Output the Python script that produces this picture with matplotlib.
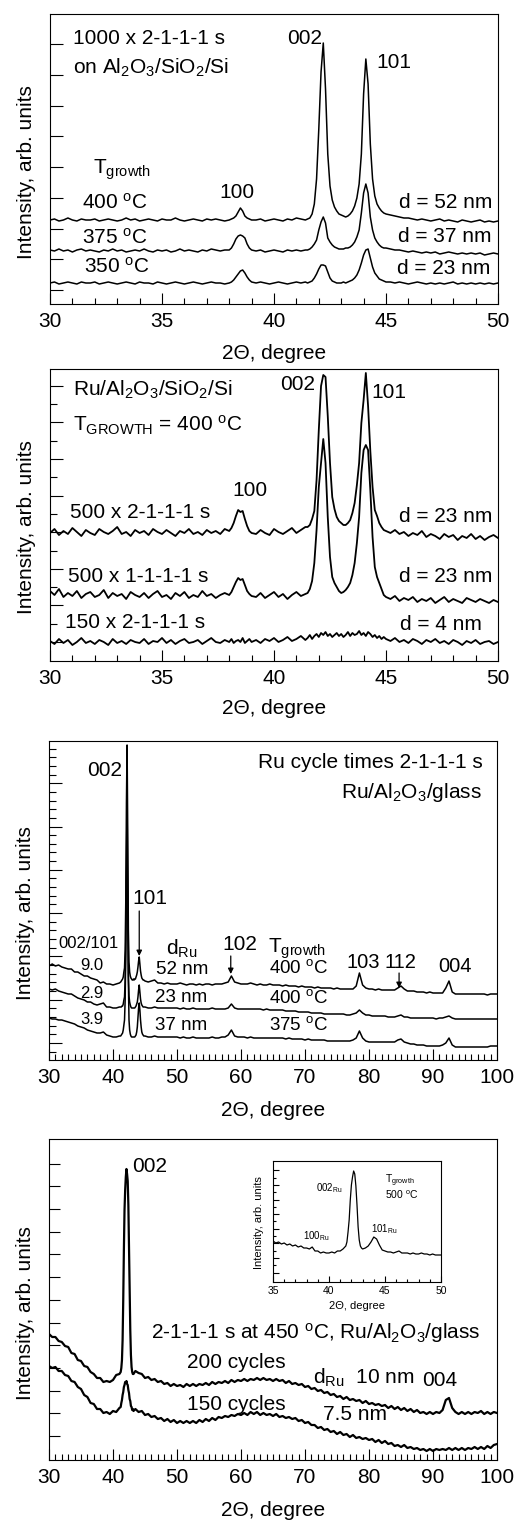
import numpy as np
import matplotlib
matplotlib.use("Agg")
import matplotlib.pyplot as plt
from matplotlib.ticker import MultipleLocator

plt.rcParams["font.family"] = ["Liberation Sans", "DejaVu Sans"]
plt.rcParams["mathtext.default"] = "regular"
plt.rcParams["axes.linewidth"] = 0.8

# 2theta grid of the two Si-substrate scans (panels a, b)
tt_ab = np.round(np.concatenate([np.arange(30.0, 37.9, 0.2), np.arange(38.0, 39.05, 0.1),
                                  np.arange(39.2, 41.45, 0.2), np.arange(41.5, 44.95, 0.1),
                                  np.arange(45.0, 50.05, 0.2)]), 2)

# panel a: 1000 x 2-1-1-1 s, three growth temperatures (arb. units)
a_400 = [84,85,83,84,86,84,83,85,84,84, 85,83,84,85,84,83,84,86,84,85, 83,84,85,84,83,85,84,84,86,84, 83,84,85,84,83,85,84,85,84,83,
         84,85,86,88,92,96,93,88,86,85,84,
         84,85,83,84,85,84,83,85,84,86,85,84,
         85,86,90,100,125,175,232,261,215,150, 118,104,97,93,90,89,88,87,88,90, 93,98,106,120,150,210,245,220,160,125, 108,100,96,93,91,
         90,89,88,87,86,86,85,84,85,84, 83,84,85,83,84,83,82,84,83,82, 83,84,82,83,82,83]
a_375 = [54,53,55,53,54,52,54,55,53,54, 53,52,54,53,55,53,54,52,53,54, 53,55,53,52,54,53,54,52,53,55, 53,54,53,52,54,53,55,54,53,54,
         54,56,60,65,68,69,68,66,60,56,54,
         53,54,52,53,54,53,52,54,53,54,53,54,
         54,55,57,60,64,74,82,87,81,66, 62,59,57,56,55,55,55,56,56,57, 59,62,67,74,91,111,120,111,87,74, 66,62,59,57,56,
         56,55,54,54,53,52,53,52,51,52, 51,52,50,51,52,51,50,51,50,51, 50,51,49,50,51,50]
a_350 = [21,22,20,21,22,21,20,22,21,21, 22,20,21,22,21,20,21,22,21,20, 22,21,21,20,22,21,20,21,22,21, 20,21,22,21,20,21,22,21,21,20,
         21,22,24,27,30,33,34,31,27,24,22,
         21,22,21,20,21,22,21,20,21,22,21,22,
         21,22,23,26,30,35,39,39,38,32, 26,23,22,21,21,21,22,21,22,23, 24,26,29,34,41,49,54,55,46,37, 31,28,25,24,23,
         22,22,21,22,21,20,21,22,21,20, 21,20,21,20,21,22,20,21,20,21, 20,21,20,21,20,21]

# panel b: Ru/Al2O3/SiO2/Si at 400 C
b_500x2 = [128,132,126,130,127,133,129,125,131,128, 126,132,129,127,130,134,127,129,125,131, 128,130,126,132,129,127,131,128,125,130, 128,132,127,129,126,131,128,130,127,132,
           130,133,138,145,151,149,150,142,135,130,128,
           127,131,128,126,132,129,127,130,133,128,131,134,
           134,136,142,150,181,231,275,286,284,245, 198,164,152,144,140,138,136,136,138,141, 148,158,176,198,238,261,288,255,210,174, 151,145,138,134,131,
           130,128,131,127,129,125,128,126,130,124, 127,125,122,127,124,126,121,125,123,127, 122,125,121,124,126,123]
b_500x1 = [70,66,72,64,68,65,70,63,67,69, 64,66,71,63,68,65,67,62,69,66, 64,68,63,67,70,64,66,62,68,65, 69,63,66,64,70,65,67,63,66,68,
           66,69,74,79,83,81,82,76,70,67,65,
           64,68,63,66,69,64,67,62,66,69,65,67,
           68,72,80,98,131,174,198,222,198,144, 104,84,78,74,70,68,69,71,74,78, 86,98,118,144,188,211,216,211,171,124, 94,84,78,72,66,
           64,62,65,60,63,61,64,59,62,60, 63,58,61,64,59,62,60,58,63,61, 59,62,60,58,61,59]
b_150x2 = [20,17,22,18,21,16,19,23,18,20, 17,21,19,16,22,18,20,17,21,19, 18,22,17,20,19,23,18,21,17,20, 22,18,19,21,17,20,23,19,18,21,
           19,22,18,20,21,19,23,18,20,22,19,
           21,18,22,20,23,19,21,24,20,22,25,21,
           23,26,22,25,27,24,28,26,29,25, 27,24,26,28,25,27,24,26,29,25, 28,26,27,30,26,28,25,29,27,24, 26,23,25,22,24,
           22,20,23,19,21,18,22,20,17,21, 19,22,18,20,17,21,19,16,20,18, 21,17,19,20,17,19]

# panel c: Ru/Al2O3/glass, 30-100 deg
tt_c = np.round(np.concatenate([np.arange(30.0, 41.25, 0.5), np.arange(41.2, 44.85, 0.1),
                                 np.arange(45.0, 100.25, 0.5)]), 2)
c_52nm = [94,96,94,95,93,92,91,91,88,88, 86,84,84,82,81,80,77,78,76,76, 75,76,77,
          78,79,80,81,83,88,92,110,160,257, 315,230,130,98,88,84,82,81,80,80, 81,80,81,81,83,85,88,93,99,103, 96,89,85,82,81,80,80,
          79,78,79,80,77,77,76,77,76,76, 76,77,76,75,76,76,75,76,75,76, 76,75,76,76,76,77,78,84,78,77,
          76,76,76,77,76,75,76,75,75,76, 75,75,75,74,75,74,74,74,73,74, 73,73,73,72,73,72,72,72,72,71,
          72,71,71,71,71,71,74,87,75,72, 71,71,70,71,70,70,70,70,70,72, 74,71,69,69,69,68,68,68,67,68,
          67,67,67,67,72,79,68,66,66,66, 66,66,66,66,66,66,66,65,66,66, 66]
c_23nm = [71,70,71,69,68,67,66,66,64,62, 61,60,58,58,56,55,56,57,53,53, 52,52,53,
          53,53,54,54,56,60,63,80,120,180, 210,150,85,64,58,55,53,52,52,52, 52,52,52,53,54,56,58,63,70,75, 68,61,57,55,54,53,53,
          53,52,52,53,52,52,52,52,52,52, 52,51,52,51,51,52,51,51,51,51, 51,52,51,51,51,51,52,56,52,51,
          51,51,51,51,51,51,51,50,51,50, 50,50,50,50,49,49,49,49,48,48, 48,48,47,47,47,47,46,46,46,46,
          46,46,46,45,45,46,47,50,47,45, 45,44,44,44,44,44,43,43,43,44, 45,43,43,42,42,42,42,42,42,42,
          42,41,42,42,43,44,42,41,41,41, 41,41,41,41,41,41,41,41,41,41, 41]
c_37nm = [42,41,41,40,40,39,38,37,36,34, 33,32,30,29,28,27,27,28,25,24, 23,23,24,
          24,25,26,27,30,35,40,60,110,200, 257,175,80,40,30,26,24,23,23,23, 23,23,23,24,25,28,33,42,52,57, 50,40,33,28,26,25,24,
          24,23,23,24,23,23,23,23,23,23, 23,22,23,22,22,23,22,22,22,22, 22,23,22,22,23,23,25,30,24,23,
          23,23,22,23,22,22,22,22,22,22, 22,22,22,22,21,22,21,21,21,21, 20,21,20,20,20,20,20,19,19,19,
          19,19,19,19,19,20,22,29,22,19, 18,18,18,18,18,18,18,18,18,20, 21,18,17,16,16,15,15,15,14,14,
          14,14,14,15,17,22,15,13,13,13, 13,13,13,13,13,13,13,13,14,14, 14]

# panel d: 2-1-1-1 s at 450 C, Ru/Al2O3/glass
tt_d = np.round(np.concatenate([np.arange(30.0, 41.25, 0.5), np.arange(41.2, 43.25, 0.1),
                                 np.arange(43.5, 100.25, 0.5)]), 2)
d_200 = [126,123,123,119,118,114,113,107,106,100, 99,94,93,88,86,82,82,78,79,78, 80,85,86,
         88,92,100,120,160,210,250,270,283,291, 286,279,255,215,170,130,105,93,88,86,86,
         89,87,86,82,83,80,81,78,79,76, 77,74,76,74,75,73,76,74,76,74, 76,75,77,75,78,76,78,77,79,77,
         80,78,80,79,81,79,81,80,82,80, 82,80,81,79,81,79,80,77,79,76, 77,75,76,73,74,71,72,69,70,67,
         68,65,66,63,64,61,63,60,61,59, 60,57,59,56,57,55,56,54,55,52, 54,51,53,50,52,49,51,48,50,47,
         48,46,48,46,48,47,50,60,62,52, 48,46,48,46,48,46,48,47,49,46, 48,46,48,47]
d_150 = [94,92,93,89,89,85,84,79,78,73, 71,65,63,57,56,51,51,47,48,46, 49,48,52,
         53,57,60,65,68,73,75,78,77,79, 76,75,70,67,61,59,54,53,50,51,49,
         51,48,49,45,46,43,44,41,42,39, 41,38,40,37,39,37,39,37,39,37, 40,38,41,39,42,40,43,42,44,43,
         45,44,46,45,47,45,48,46,48,45, 47,45,46,44,46,43,44,42,43,41, 42,39,40,37,38,35,35,32,33,30,
         31,28,29,26,28,25,26,23,25,22, 23,21,22,20,21,18,20,17,19,16, 17,14,15,13,15,12,13,11,12,10,
         11,9,11,9,11,10,11,10,12,10, 12,10,12,10,12,11,13,11,13,11, 14,12,15,16]

# inset: growth at 500 C
tt_i = np.round(np.concatenate([np.arange(35.0, 41.6, 0.25), np.arange(41.6, 42.95, 0.1),
                                 np.arange(43.0, 50.1, 0.25)]), 2)
i_500 = [41,39,40,38,39,37,38,36,37,35, 36,34,34,33,35,31,31,29,30,29, 29,30,29,31,31,33,36,
         40,50,62,82,97,105,111,108,96,77,55,42,36,34,
         33,34,36,40,45,43,37,32,31,30, 30,29,30,31,29,29,29,28,29,28, 28,29,28,28,27,28,27,27,27]

for name, x, ys in [("a", tt_ab, [a_400, a_375, a_350]), ("b", tt_ab, [b_500x2, b_500x1, b_150x2]),
                    ("c", tt_c, [c_52nm, c_23nm, c_37nm]), ("d", tt_d, [d_200, d_150]), ("i", tt_i, [i_500])]:
    for y in ys:
        assert len(y) == len(x), (name, len(y), len(x))

W, H = 514.0, 1522.0
def box(x0, y0, x1, y1):
    return [x0 / W, 1 - y1 / H, (x1 - x0) / W, (y1 - y0) / H]

fig = plt.figure(figsize=(5.14, 15.22), dpi=100)
ax1 = fig.add_axes(box(50, 14, 498, 304))
ax2 = fig.add_axes(box(50, 369, 498, 661))
ax3 = fig.add_axes(box(49, 741, 497, 1060))
ax4 = fig.add_axes(box(49, 1139, 497, 1460))
axi = fig.add_axes(box(273, 1161, 441, 1282))

for y in [a_400, a_375, a_350]:
    ax1.plot(tt_ab, y, color="k", lw=1.1)
for y in [b_500x2, b_500x1, b_150x2]:
    ax2.plot(tt_ab, y, color="k", lw=1.3)
for y in [c_52nm, c_23nm, c_37nm]:
    ax3.plot(tt_c, y, color="k", lw=1.1)
for y in [d_200, d_150]:
    ax4.plot(tt_d, y, color="k", lw=1.6)
axi.plot(tt_i, i_500, color="k", lw=0.9)


def style(ax, xlim, ylim, xmaj, yticks, yminor=(), labelsize=15, majlen=8, minlen=4, ylen=8, yminlen=4, pad=6):
    ax.set_xlim(*xlim)
    ax.set_ylim(*ylim)
    ax.xaxis.set_major_locator(MultipleLocator(xmaj))
    ax.xaxis.set_minor_locator(MultipleLocator(1))
    ax.set_yticks(list(yticks))
    ax.set_yticks(list(yminor), minor=True)
    ax.tick_params(which="both", direction="in", top=False, right=False, labelleft=False,
                   labelsize=labelsize, width=0.8, color="k")
    ax.tick_params(axis="x", which="major", length=majlen, pad=pad)
    ax.tick_params(axis="x", which="minor", length=minlen)
    ax.tick_params(axis="y", which="major", length=ylen)
    ax.tick_params(axis="y", which="minor", length=yminlen)


style(ax1, (30, 50), (0, 290), 5, 14 + 30.75 * np.arange(9), ylen=9)
style(ax2, (30, 50), (0, 292), 5, 19 + 36.6 * np.arange(8), 37.3 + 36.6 * np.arange(7), ylen=9, yminlen=5)
style(ax3, (30, 100), (0, 319), 10, 17 + 43.3 * np.arange(7), [v for v in 8.34 + 8.66 * np.arange(36) if abs((v - 17) / 43.3 - round((v - 17) / 43.3)) > 0.05],
      ylen=9, yminlen=5)
style(ax4, (30, 100), (0, 321), 10, 24 + 22.7 * np.arange(13), ylen=8)
style(axi, (35, 50), (0, 121), 5, 9.5 + 14.6 * np.arange(8), 16.8 + 14.6 * np.arange(7),
      labelsize=7.5, majlen=4, minlen=2, ylen=4, yminlen=2, pad=3)

for ax, ly, xly in [(ax1, 0.455, -0.138), (ax2, 0.459, -0.130), (ax3, 0.46, -0.1285), (ax4, 0.458, -0.128)]:
    ax.set_ylabel("Intensity, arb. units", fontsize=15)
    ax.yaxis.set_label_coords(-0.032, ly)
    ax.set_xlabel("2Θ, degree", fontsize=15)
    ax.xaxis.set_label_coords(0.5, xly)
axi.set_ylabel("Intensity, arb. units", fontsize=8)
axi.yaxis.set_label_coords(-0.054, 0.49)
axi.set_xlabel("2Θ, degree", fontsize=8)
axi.xaxis.set_label_coords(0.5, -0.157)

fs = 15
# panel a labels
ax1.text(31.03, 266, "1000 x 2-1-1-1 s", fontsize=fs, ha="left", va="center")
ax1.text(31.03, 236, "on Al$_2$O$_3$/SiO$_2$/Si", fontsize=fs, ha="left", va="center")
ax1.text(41.38, 266, "002", fontsize=fs, ha="center", va="center")
ax1.text(45.36, 242, "101", fontsize=fs, ha="center", va="center")
ax1.text(31.9, 134, "T$_{growth}$", fontsize=fs, ha="left", va="center")
ax1.text(32.9, 101, "400 $^o$C", fontsize=fs, ha="center", va="center")
ax1.text(38.35, 111, "100", fontsize=fs, ha="center", va="center")
ax1.text(49.73, 101, "d = 52 nm", fontsize=fs, ha="right", va="center")
ax1.text(32.9, 66, "375 $^o$C", fontsize=fs, ha="center", va="center")
ax1.text(49.73, 67, "d = 37 nm", fontsize=fs, ha="right", va="center")
ax1.text(33.0, 37, "350 $^o$C", fontsize=fs, ha="center", va="center")
ax1.text(49.64, 35, "d = 23 nm", fontsize=fs, ha="right", va="center")

# panel b labels
ax2.text(31.03, 271, "Ru/Al$_2$O$_3$/SiO$_2$/Si", fontsize=fs, ha="left", va="center")
ax2.text(31.03, 236, "T$_{GROWTH}$ = 400 $^o$C", fontsize=fs, ha="left", va="center")
ax2.text(41.07, 276, "002", fontsize=fs, ha="center", va="center")
ax2.text(45.13, 268, "101", fontsize=fs, ha="center", va="center")
ax2.text(38.93, 171, "100", fontsize=fs, ha="center", va="center")
ax2.text(30.89, 149, "500 x 2-1-1-1 s", fontsize=fs, ha="left", va="center")
ax2.text(49.73, 144, "d = 23 nm", fontsize=fs, ha="right", va="center")
ax2.text(30.8, 84, "500 x 1-1-1-1 s", fontsize=fs, ha="left", va="center")
ax2.text(49.73, 84, "d = 23 nm", fontsize=fs, ha="right", va="center")
ax2.text(30.67, 39, "150 x 2-1-1-1 s", fontsize=fs, ha="left", va="center")
ax2.text(49.29, 36, "d = 4 nm", fontsize=fs, ha="right", va="center")

# panel c labels
ax3.text(97.8, 297, "Ru cycle times 2-1-1-1 s", fontsize=fs, ha="right", va="center")
ax3.text(97.66, 268, "Ru/Al$_2$O$_3$/glass", fontsize=fs, ha="right", va="center")
ax3.text(38.75, 290, "002", fontsize=fs, ha="center", va="center")
ax3.text(45.8, 162, "101", fontsize=fs, ha="center", va="center")
ax3.text(36.1, 117, "002/101", fontsize=12, ha="center", va="center")
ax3.text(36.7, 94, "9.0", fontsize=12, ha="center", va="center")
ax3.text(36.7, 67, "2.9", fontsize=12, ha="center", va="center")
ax3.text(36.7, 41, "3.9", fontsize=12, ha="center", va="center")
ax3.text(50.8, 111, "d$_{Ru}$", fontsize=fs, ha="center", va="center")
ax3.text(50.8, 91, "52 nm", fontsize=13.5, ha="center", va="center")
ax3.text(50.6, 62, "23 nm", fontsize=13.5, ha="center", va="center")
ax3.text(50.6, 35, "37 nm", fontsize=13.5, ha="center", va="center")
ax3.text(59.8, 115, "102", fontsize=fs, ha="center", va="center")
ax3.text(68.75, 111, "T$_{growth}$", fontsize=fs, ha="center", va="center")
ax3.text(69.06, 92, "400 $^o$C", fontsize=13.5, ha="center", va="center")
ax3.text(69.06, 62, "400 $^o$C", fontsize=13.5, ha="center", va="center")
ax3.text(69.06, 35, "375 $^o$C", fontsize=13.5, ha="center", va="center")
ax3.text(79.06, 97, "103", fontsize=14.5, ha="center", va="center")
ax3.text(84.84, 97, "112", fontsize=14.5, ha="center", va="center")
ax3.text(93.44, 93, "004", fontsize=14.5, ha="center", va="center")
arrow = dict(arrowstyle="-|>", color="k", lw=0.9, mutation_scale=8, shrinkA=0, shrinkB=0)
ax3.annotate("", xy=(44.1, 104), xytext=(44.1, 149), arrowprops=arrow)
ax3.annotate("", xy=(58.4, 86), xytext=(58.4, 104), arrowprops=arrow)
ax3.annotate("", xy=(84.7, 72), xytext=(84.7, 87), arrowprops=arrow)

# panel d labels
ax4.text(42.97, 293, "002", fontsize=fs, ha="left", va="center")
ax4.text(71.7, 127, "2-1-1-1 s at 450 $^o$C, Ru/Al$_2$O$_3$/glass", fontsize=fs, ha="center", va="center")
ax4.text(59.2, 97, "200 cycles", fontsize=fs, ha="center", va="center")
ax4.text(71.25, 82, "d$_{Ru}$  10 nm", fontsize=fs, ha="left", va="center")
ax4.text(91.1, 80, "004", fontsize=fs, ha="center", va="center")
ax4.text(59.2, 55, "150 cycles", fontsize=fs, ha="center", va="center")
ax4.text(77.8, 45, "7.5 nm", fontsize=fs, ha="center", va="center")

# inset labels
axi.text(40.0, 94, "002$_{Ru}$", fontsize=7, ha="center", va="center")
axi.text(45.0, 101, "T$_{growth}$", fontsize=7.5, ha="left", va="center")
axi.text(45.0, 87, "500 $^o$C", fontsize=7.5, ha="left", va="center")
axi.text(38.84, 46, "100$_{Ru}$", fontsize=7, ha="center", va="center")
axi.text(44.9, 53, "101$_{Ru}$", fontsize=7, ha="center", va="center")

fig.savefig("out.png", dpi=100)
